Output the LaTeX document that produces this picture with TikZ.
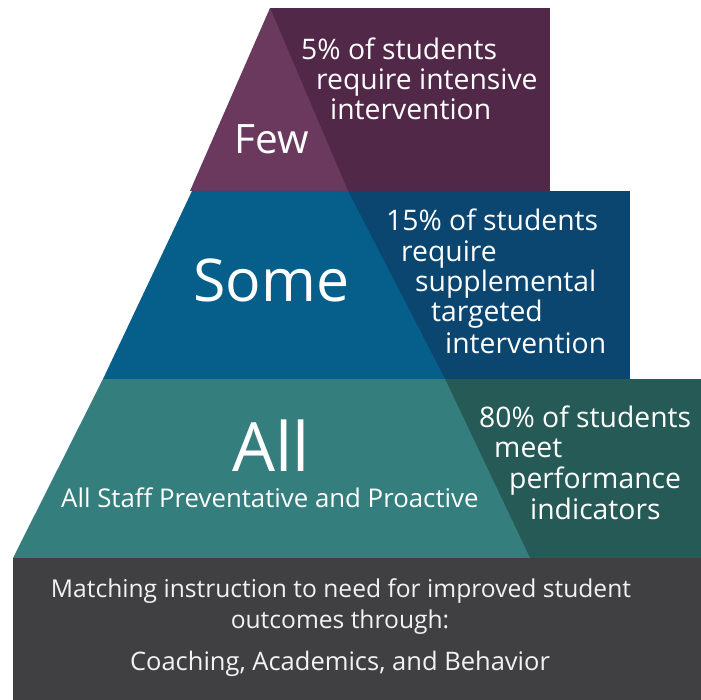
\documentclass[tikz,border=0pt]{standalone}
\usepackage{fontspec}
\setmainfont{Open Sans}
\definecolor{purpleL}{HTML}{6B395D}
\definecolor{purpleD}{HTML}{522848}
\definecolor{blueL}{HTML}{065E8A}
\definecolor{blueD}{HTML}{0B4670}
\definecolor{tealL}{HTML}{347F7D}
\definecolor{tealD}{HTML}{265A56}
\definecolor{greyB}{HTML}{404042}
\begin{document}
\begin{tikzpicture}[x=1pt,y=-1pt,
  txt/.style={text=white, inner sep=0pt, anchor=base west, font=\fontsize{28.3}{30}\selectfont},
  big/.style={text=white, inner sep=0pt, anchor=base west},
  foot/.style={text=white!90!gray, inner sep=0pt, anchor=base}]
\useasboundingbox (0,0) rectangle (701,700);
% top tier
\fill[purpleD] (270,8) rectangle (550,191);
\fill[purpleL] (270,8) -- (190,191) -- (348,191) -- cycle;
% middle tier
\fill[blueD] (192,191) rectangle (630,379);
\fill[blueL] (192,191) -- (103,379) -- (445,379) -- (348,191) -- cycle;
% bottom tier
\fill[tealD] (103,379) rectangle (701,558);
\fill[tealL] (103,379) -- (13,558) -- (530,558) -- (445,379) -- cycle;
% base
\fill[greyB] (13,558) rectangle (701,700);

% top texts
\node[txt] (a1) at (301,60) {5\% of students};
\node[txt] (a2) at (316,90) {require intensive};
\node[txt] (a3) at (330,120) {intervention};
\node[big, font=\fontsize{40.5}{42}\selectfont] (few) at (234,154) {Few};

% middle texts
\node[txt] (b1) at (386,231) {15\% of students};
\node[txt] (b2) at (401,262) {require};
\node[txt] (b3) at (415,292) {supplemental};
\node[txt] (b4) at (431,322) {targeted};
\node[txt] (b5) at (445,353) {intervention};
\node[big, font=\fontsize{59}{62}\selectfont] (some) at (193,302) {Some};

% bottom tier texts
\node[txt] (c1) at (479,427) {80\% of students};
\node[txt] (c2) at (494,457) {meet};
\node[txt] (c3) at (509,488) {performance};
\node[txt] (c4) at (530,519) {indicators};
\node[big, font=\fontsize{68}{70}\selectfont] (all) at (232,471) {All};
\node[big, font=\fontsize{25.8}{28}\selectfont] (allsub) at (61,507) {All Staff Preventative and Proactive};

% footer
\node[foot, font=\fontsize{24.6}{26}\selectfont] (f1) at (341,597) {Matching instruction to need for improved student};
\node[foot, font=\fontsize{24.6}{26}\selectfont] (f2) at (340,628) {outcomes through:};
\node[foot, font=\fontsize{25.5}{27}\selectfont] (f3) at (340,670) {Coaching, Academics, and Behavior};
\end{tikzpicture}
\end{document}
